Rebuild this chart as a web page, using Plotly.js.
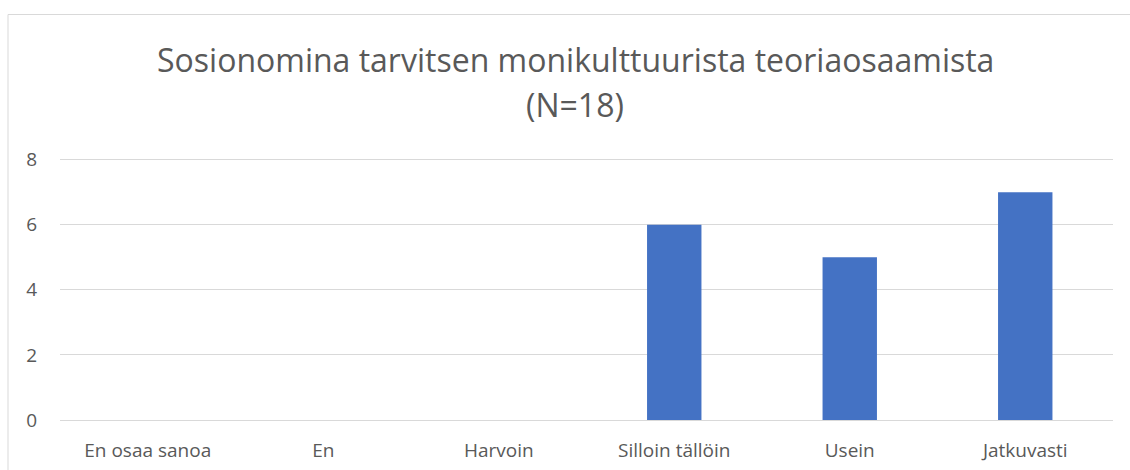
<!DOCTYPE html>
<html>
<head>
<meta charset="utf-8">
<script src="https://cdn.plot.ly/plotly-3.0.1.min.js"></script>
<style>html,body{margin:0;padding:0;background:#fff;}#chart{width:1130px;height:470px;}</style>
</head>
<body>
<div id="chart"></div>
<script>
const categories = ["En osaa sanoa", "En", "Harvoin", "Silloin tällöin", "Usein", "Jatkuvasti"];
const values = [0, 0, 0, 6, 5, 7];
const yTicks = [0, 2, 4, 6, 8];
const titleLine1 = "Sosionomina tarvitsen monikulttuurista teoriaosaamista";
const titleLine2 = "(N=18)";

const font = "Open Sans, Liberation Sans, sans-serif";
const data = [{
  type: "bar",
  x: categories,
  y: values,
  marker: {color: "#4472C4"},
  width: 0.31,
  hoverinfo: "x+y"
}];
const layout = {
  width: 1130, height: 470,
  margin: {l: 60, r: 17, t: 158, b: 50},
  paper_bgcolor: "#fff", plot_bgcolor: "#fff",
  showlegend: false,
  font: {family: font, color: "#595959", size: 19},
  xaxis: {
    type: "category",
    showgrid: false, zeroline: false, showline: false,
    ticks: "", ticklabelstandoff: 17,
    tickfont: {family: font, size: 19, color: "#595959"}
  },
  yaxis: {
    range: [0, 8.05],
    tickvals: yTicks,
    showgrid: true, gridcolor: "#d9d9d9", gridwidth: 1,
    zeroline: true, zerolinecolor: "#d9d9d9", zerolinewidth: 1,
    showline: false, ticks: "", ticklabelstandoff: 22,
    tickfont: {family: font, size: 19, color: "#595959"}
  },
  annotations: [
    {text: titleLine1, xref: "paper", yref: "paper", x: (575-60)/1053, y: (420-60)/262, xanchor: "center", yanchor: "middle", showarrow: false, font: {family: font, size: 32, color: "#595959"}},
    {text: titleLine2, xref: "paper", yref: "paper", x: (575-60)/1053, y: (420-104)/262, xanchor: "center", yanchor: "middle", showarrow: false, font: {family: font, size: 32, color: "#595959"}}
  ],
  shapes: [{
    type: "rect", xref: "paper", yref: "paper",
    x0: (8-60)/1053, x1: (1200-60)/1053,
    y0: -0.5, y1: (420-14.5)/262,
    line: {color: "#d9d9d9", width: 1}, fillcolor: "rgba(0,0,0,0)", layer: "below"
  }]
};
Plotly.newPlot("chart", data, layout, {displayModeBar: false});
</script>
</body>
</html>
